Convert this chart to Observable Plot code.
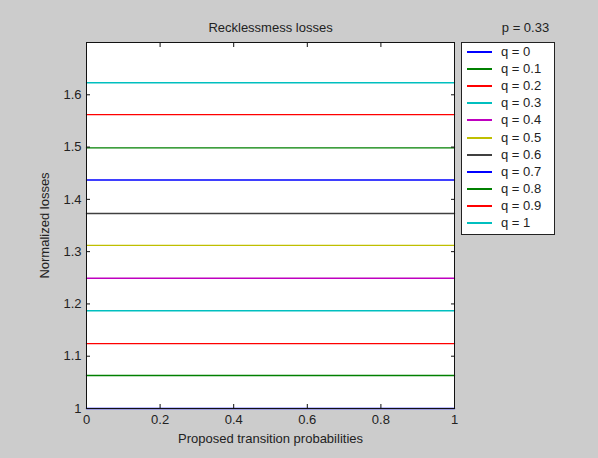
<!DOCTYPE html>
<html>
<head>
<meta charset="utf-8">
<script src="https://cdn.jsdelivr.net/npm/d3@7"></script>
<script src="https://cdn.jsdelivr.net/npm/@observablehq/plot@0.6"></script>
<style>
  html, body { margin: 0; padding: 0; background: #cccccc; }
  #wrap { position: relative; width: 598px; height: 458px; background: #cccccc; font-family: "Liberation Sans", Arial, sans-serif; }
  #legend { position: absolute; left: 461px; top: 42px; width: 94px; height: 193px; background: #fff; border: 1px solid #222; box-sizing: border-box; }
  .item { position: absolute; left: 5px; height: 16px; width: 85px; font-size: 13px; color: #222; }
  .sw { position: absolute; left: 0; top: 7px; width: 25px; height: 2px; }
  .lab { position: absolute; left: 34px; top: 0; line-height: 16px; white-space: nowrap; }
</style>
</head>
<body>
<div id="wrap"><div id="legend"></div></div>
<script>
// ---- data ----
const qLabels = ["q = 0", "q = 0.1", "q = 0.2", "q = 0.3", "q = 0.4", "q = 0.5", "q = 0.6", "q = 0.7", "q = 0.8", "q = 0.9", "q = 1"];
const losses = [1.000, 1.063, 1.124, 1.187, 1.249, 1.312, 1.373, 1.437, 1.4985, 1.562, 1.623];
const transitionProbs = [0, 1];
const lineColors = ["#0000ff", "#008000", "#ff0000", "#00bfbf", "#bf00bf", "#bfbf00", "#404040", "#0000ff", "#008000", "#ff0000", "#00bfbf"];
const xTicks = [0, 0.2, 0.4, 0.6, 0.8, 1];
const yTicks = [1, 1.1, 1.2, 1.3, 1.4, 1.5, 1.6];
const titleText = "Recklessmess losses";
const pText = "p = 0.33";
const xLabel = "Proposed transition probabilities";
const yLabel = "Normalized losses";

const rows = [];
qLabels.forEach((q, i) => transitionProbs.forEach(x => rows.push({q, x, y: losses[i]})));

const fmt = d => String(d);
const font = "'Liberation Sans', Arial, sans-serif";

const chart = Plot.plot({
  width: 598,
  height: 458,
  marginLeft: 86,
  marginRight: 144,
  marginTop: 42,
  marginBottom: 50,
  style: {background: "#cccccc", fontFamily: font, fontSize: "13px", color: "#222", overflow: "visible"},
  x: {domain: [0, 1]},
  y: {domain: [1, 1.7]},
  color: {domain: qLabels, range: lineColors},
  marks: [
    Plot.frame({fill: "white", stroke: null}),
    Plot.line(rows, {x: "x", y: "y", z: "q", stroke: "q", strokeWidth: 1.4}),
    Plot.frame({stroke: "#111"}),
    Plot.axisX({ticks: xTicks, anchor: "bottom", tickSize: 0, tickPadding: 6, tickFormat: fmt, label: null, fill: "#222"}),
    Plot.axisX({ticks: xTicks, anchor: "bottom", tickSize: -4, tickFormat: () => "", label: null, stroke: "#111"}),
    Plot.axisX({ticks: xTicks, anchor: "top", tickSize: -4, tickFormat: () => "", label: null, stroke: "#111"}),
    Plot.axisY({ticks: yTicks, anchor: "left", tickSize: 0, tickPadding: 5, tickFormat: fmt, label: null, fill: "#222"}),
    Plot.axisY({ticks: yTicks, anchor: "left", tickSize: -4, tickFormat: () => "", label: null, stroke: "#111"}),
    Plot.axisY({ticks: yTicks, anchor: "right", tickSize: -4, tickFormat: () => "", label: null, stroke: "#111"}),
    Plot.text([titleText], {frameAnchor: "top", lineAnchor: "middle", textAnchor: "middle", dy: -15, fill: "#222", fontSize: 13}),
    Plot.text([pText], {frameAnchor: "top-right", lineAnchor: "middle", textAnchor: "middle", dx: 71, dy: -15, fill: "#222", fontSize: 13}),
    Plot.text([xLabel], {frameAnchor: "bottom", lineAnchor: "middle", textAnchor: "middle", dy: 30, fill: "#222", fontSize: 13}),
    Plot.text([yLabel], {frameAnchor: "left", lineAnchor: "middle", textAnchor: "middle", dx: -42, rotate: -90, fill: "#222", fontSize: 13})
  ]
});
const wrap = document.getElementById("wrap");
wrap.insertBefore(chart, wrap.firstChild);

const legend = document.getElementById("legend");
qLabels.forEach((q, i) => {
  const it = document.createElement("div");
  it.className = "item";
  it.style.top = (1 + i * 17.1) + "px";
  const sw = document.createElement("div");
  sw.className = "sw";
  sw.style.background = lineColors[i];
  const lab = document.createElement("div");
  lab.className = "lab";
  lab.textContent = q;
  it.appendChild(sw);
  it.appendChild(lab);
  legend.appendChild(it);
});
</script>
</body>
</html>
